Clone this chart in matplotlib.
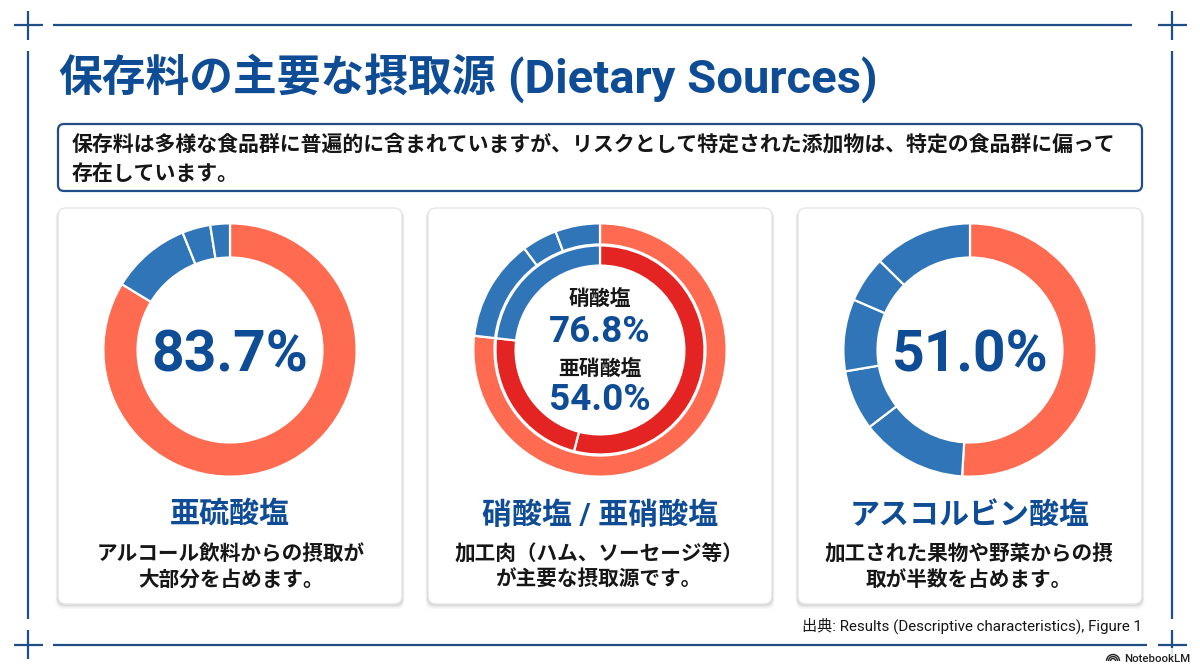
import matplotlib
matplotlib.use("Agg")
import matplotlib.pyplot as plt
from matplotlib.patches import FancyBboxPatch, Arc, Rectangle

W, H = 1200, 670
JP = ["Noto Sans CJK JP", "DejaVu Sans"]
MIX = ["Roboto", "Noto Sans CJK JP", "DejaVu Sans"]
NAVY = "#0F4C96"
FRAME = "#1F4E86"
CORAL = "#FF6B50"
RED = "#E32423"
BLUE = "#2F75B8"
INK = "#161616"

title_jp = "保存料の主要な摂取源"
title_en = "(Dietary Sources)"
lead = ["保存料は多様な食品群に普遍的に含まれていますが、リスクとして特定された添加物は、特定の食品群に偏って",
        "存在しています。"]
source = "出典: Results (Descriptive characteristics), Figure 1"

sulfite = [83.7, 10.2, 3.6, 2.5]
nitrate_outer = [76.8, 13.0, 4.5, 5.7]
nitrite_inner = [54.0, 22.8, 23.2]
ascorbate = [51.0, 13.6, 7.7, 9.2, 5.9, 12.6]

sulfite_colors = [CORAL, BLUE, BLUE, BLUE]
nitrate_colors = [CORAL, BLUE, BLUE, BLUE]
nitrite_colors = [RED, RED, BLUE]
ascorbate_colors = [CORAL, BLUE, BLUE, BLUE, BLUE, BLUE]

headings = ["亜硫酸塩", "硝酸塩 / 亜硝酸塩", "アスコルビン酸塩"]
bodies = [["アルコール飲料からの摂取が", "大部分を占めます。"],
          ["加工肉（ハム、ソーセージ等）", "が主要な摂取源です。"],
          ["加工された果物や野菜からの摂", "取が半数を占めます。"]]

fig = plt.figure(figsize=(W / 100, H / 100), dpi=100, facecolor="white")
bg = fig.add_axes([0, 0, 1, 1])
bg.set_xlim(0, W)
bg.set_ylim(H, 0)
bg.axis("off")

# frame
segs = [((53, 25), (1132, 25)), ((28, 51), (28, 619)), ((1172, 51), (1172, 619)), ((53, 645), (1147, 645)),
        ((14, 25), (43, 25)), ((28, 11), (28, 40)), ((1158, 25), (1187, 25)), ((1172, 11), (1172, 40)),
        ((14, 645), (43, 645)), ((28, 630), (28, 659)), ((1158, 645), (1187, 645)), ((1172, 630), (1172, 659))]
for a, b in segs:
    bg.plot([a[0], b[0]], [a[1], b[1]], color=FRAME, lw=1.6, solid_capstyle="butt")

bg.text(58, 79, title_jp, fontsize=31.5, fontweight="bold", color=NAVY, family=MIX, va="center", ha="left")
bg.text(508, 80, title_en, fontsize=34, fontweight="bold", color=NAVY, family=MIX, va="center", ha="left")

# lead box
bg.add_patch(FancyBboxPatch((58, 124), 1084, 67, boxstyle="round,pad=0,rounding_size=6",
                            fc="white", ec=FRAME, lw=1.6))
bg.text(72, 144.5, lead[0], fontsize=15.05, fontweight="bold", color=INK, family=JP, va="center")
bg.text(72, 173, lead[1], fontsize=15.05, fontweight="bold", color=INK, family=JP, va="center")

# cards
card_x = [58, 428, 798]
body_dx = [1, -1, -1]
for i, x in enumerate(card_x):
    for off, alpha in ((5, 0.03), (3.5, 0.05), (2, 0.07)):
        bg.add_patch(FancyBboxPatch((x - off / 2, 208 + off / 2), 344 + off, 396 + off / 2,
                                    boxstyle="round,pad=0,rounding_size=8", fc="black", ec="none", alpha=alpha))
    bg.add_patch(FancyBboxPatch((x, 208), 344, 396, boxstyle="round,pad=0,rounding_size=8",
                                fc="white", ec="#E3E3E3", lw=0.9))
    cx = x + 172
    bg.text(cx, 516, headings[i], fontsize=21.6, fontweight="bold", color=NAVY, family=MIX, ha="center", va="center")
    bg.text(cx + body_dx[i], 554, bodies[i][0], fontsize=14.85, fontweight="bold", color=INK, family=JP, ha="center", va="center")
    bg.text(cx + body_dx[i], 579, bodies[i][1], fontsize=14.85, fontweight="bold", color=INK, family=JP, ha="center", va="center")


def donut(cx, cy, rings):
    R = 126
    ax = fig.add_axes([(cx - R) / W, 1 - (cy + R) / H, 2 * R / W, 2 * R / H])
    for values, colors, r_out, r_in in rings:
        ax.pie(values, colors=colors, radius=r_out / R, startangle=90, counterclock=False,
               wedgeprops=dict(width=(r_out - r_in) / R, edgecolor="white", linewidth=1.6))
    ax.set_xlim(-0.995, 0.995)
    ax.set_ylim(-0.995, 0.995)
    ax.set_aspect("equal")
    ax.patch.set_alpha(0)
    ax.axis("off")


donut(230, 350, [(sulfite, sulfite_colors, 126, 92)])
donut(600, 350, [(nitrate_outer, nitrate_colors, 126, 105), (nitrite_inner, nitrite_colors, 104, 84)])
donut(970, 350, [(ascorbate, ascorbate_colors, 126, 92)])

top = fig.add_axes([0, 0, 1, 1])
top.set_xlim(0, W)
top.set_ylim(H, 0)
top.axis("off")
top.patch.set_alpha(0)
top.text(230, 356, "83.7%", fontsize=41, fontweight="bold", color=NAVY, family=MIX, ha="center", va="center")
top.text(970, 356, "51.0%", fontsize=41, fontweight="bold", color=NAVY, family=MIX, ha="center", va="center")
top.text(600, 298, "硝酸塩", fontsize=15, fontweight="bold", color=INK, family=JP, ha="center", va="center")
top.text(600, 332, "76.8%", fontsize=26.6, fontweight="bold", color=NAVY, family=MIX, ha="center", va="center")
top.text(600, 368, "亜硝酸塩", fontsize=15, fontweight="bold", color=INK, family=JP, ha="center", va="center")
top.text(600, 400, "54.0%", fontsize=26.6, fontweight="bold", color=NAVY, family=MIX, ha="center", va="center")

top.text(1142, 626, source, fontsize=10.9, color=INK, family=MIX, ha="right", va="center")

# NotebookLM mark
top.add_patch(Rectangle((1103, 648), 97, 22, fc="white", ec="none", alpha=0.85))
for d in (13, 9, 5):
    top.add_patch(Arc((1113, 661), d, d, theta1=180, theta2=360, color="#222222", lw=1.0))
top.text(1124, 659, "NotebookLM", fontsize=8.2, fontweight="medium", color="#222222", family=MIX, ha="left", va="center")

fig.savefig("out.png", dpi=100, facecolor="white")
